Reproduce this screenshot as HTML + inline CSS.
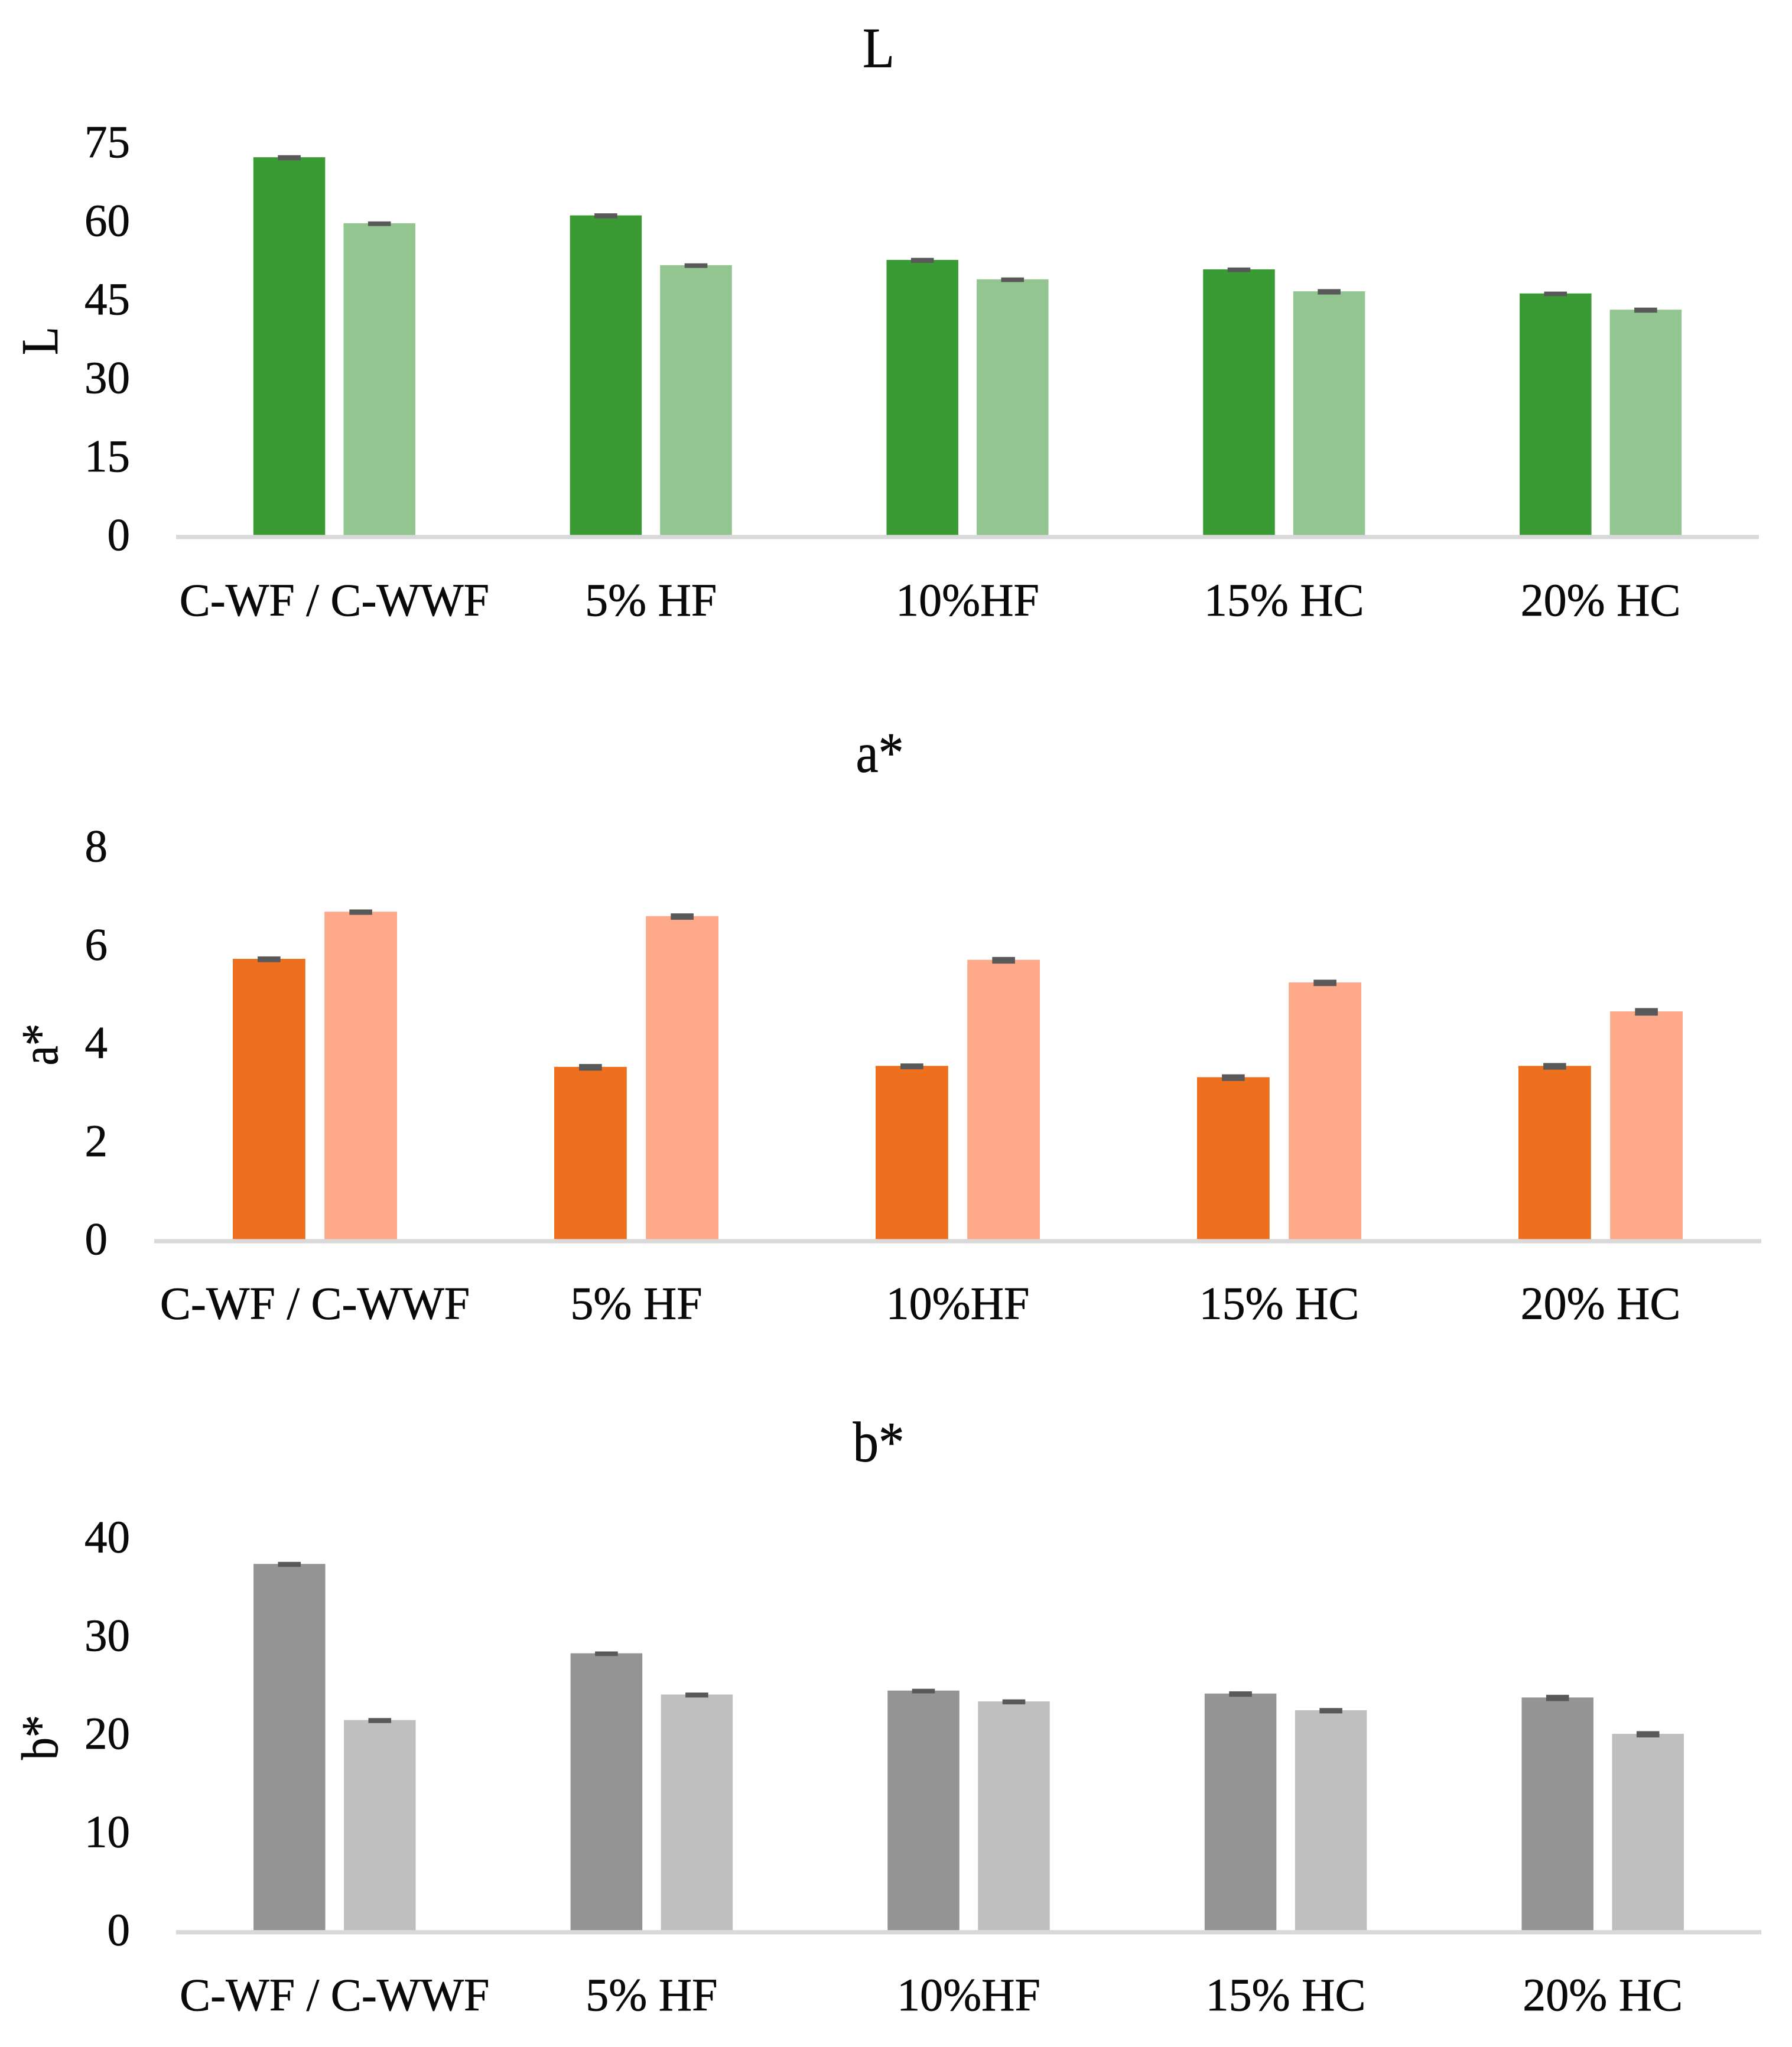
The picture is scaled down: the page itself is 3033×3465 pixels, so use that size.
<!DOCTYPE html>
<html lang="en">
<head>
<meta charset="utf-8">
<title>L, a*, b* colour bar charts</title>
<style>
  html, body { margin: 0; padding: 0; background: #ffffff; }
  body { width: 3033px; height: 3465px; overflow: hidden; }
  svg { display: block; }
  text { font-family: "Liberation Serif", "DejaVu Serif", serif; fill: #0a0a0a; stroke: #0a0a0a; stroke-width: 0.7px; }
</style>
</head>
<body>
<svg id="figure" xmlns="http://www.w3.org/2000/svg" width="3033" height="3465" viewBox="0 0 3033 3465"></svg>
<script>
const categories = ["C-WF / C-WWF", "5% HF", "10%HF", "15% HC", "20% HC"];

const lTicks = [0, 15, 30, 45, 60, 75];
const lDark = [72.5, 61.4, 52.9, 51.1, 46.5];
const lLight = [59.9, 51.9, 49.2, 46.9, 43.4];
const lDarkErr = [0.1, 0.1, 0.1, 0.056, 0.056];
const lLightErr = [0.056, 0.056, 0.056, 0.135, 0.1];

const aTicks = [0, 2, 4, 6, 8];
const aDark = [5.75, 3.55, 3.57, 3.34, 3.57];
const aLight = [6.71, 6.62, 5.73, 5.27, 4.68];
const aDarkErr = [0.018, 0.027, 0.018, 0.027, 0.027];
const aLightErr = [0.014, 0.024, 0.027, 0.024, 0.036];

const bTicks = [0, 10, 20, 30, 40];
const bDark = [37.5, 28.4, 24.6, 24.3, 23.9];
const bLight = [21.6, 24.2, 23.5, 22.6, 20.2];
const bDarkErr = [0.05, 0.03, 0.03, 0.07, 0.115];
const bLightErr = [0.05, 0.05, 0.05, 0.07, 0.115];

const NS = "http://www.w3.org/2000/svg";
const figure = document.getElementById("figure");

function svgEl(parent, tag, attrs, content) {
  const el = document.createElementNS(NS, tag);
  for (const k in attrs) el.setAttribute(k, attrs[k]);
  if (content !== undefined) el.textContent = content;
  parent.appendChild(el);
  return el;
}

function drawChart(cfg) {
  const group = svgEl(figure, "g", {});
  
  

  const maxTick = cfg.ticks[cfg.ticks.length - 1];
  const yScale = v => cfg.y0 - (v / maxTick) * cfg.plotHeight;
  const catWidth = (cfg.right - cfg.left) / categories.length;
  const catCenter = i => cfg.left + (i + 0.5) * catWidth;

  const title = svgEl(group, "text", {
    x: cfg.titleX, y: cfg.titleY, "font-size": 96, "text-anchor": "middle",
    textLength: cfg.titleLen, lengthAdjust: "spacingAndGlyphs"
  }, cfg.title);
  
  

  const yTitle = svgEl(group, "text", {
    transform: "translate(97," + cfg.yTitleY + ") rotate(-90)",
    "font-size": 88, "text-anchor": "middle",
    textLength: cfg.yTitleLen, lengthAdjust: "spacingAndGlyphs"
  }, cfg.title);
  
  

  cfg.ticks.forEach(t => {
    const label = svgEl(group, "text", {
      x: cfg.tickRight, y: yScale(t) + 22, "font-size": 77, "text-anchor": "end"
    }, String(t));
    
    
  });

  const seriesList = [
    { name: "dark", values: cfg.dark, errs: cfg.darkErr, color: cfg.darkColor, side: -1 },
    { name: "light", values: cfg.light, errs: cfg.lightErr, color: cfg.lightColor, side: 1 }
  ];

  seriesList.forEach(s => {
    s.values.forEach((v, i) => {
      const cx = catCenter(i) + s.side * cfg.barOffset;
      const bar = svgEl(group, "rect", {
        x: cx - cfg.barWidth / 2, y: yScale(v), width: cfg.barWidth,
        height: cfg.y0 - yScale(v), fill: s.color
      });
      
      
    });
  });

  const axis = svgEl(group, "rect", {
    x: cfg.left, y: cfg.y0 - 3.6, width: cfg.right - cfg.left, height: 7.2, fill: "#d9d9d9"
  });
  
  

  seriesList.forEach(s => {
    s.values.forEach((v, i) => {
      const cx = catCenter(i) + s.side * cfg.barOffset;
      const pad = (s.errs[i] / maxTick) * cfg.plotHeight;
      const cap = svgEl(group, "rect", {
        x: cx - 19.3, y: yScale(v) + 0.8 - pad - 3.4, width: 38.6,
        height: 2 * pad + 6.8, fill: "#595959"
      });
      
      
    });
  });

  categories.forEach((c, i) => {
    const label = svgEl(group, "text", {
      x: catCenter(i), y: cfg.y0 + cfg.labelDrop, "font-size": 78, "text-anchor": "middle"
    }, c);
    
    
  });
}

drawChart({
  key: "l", title: "L", ticks: lTicks, dark: lDark, light: lLight,
  darkErr: lDarkErr, lightErr: lLightErr,
  darkColor: "#3a9a33", lightColor: "#93c590",
  left: 298, right: 2977, y0: 909, plotHeight: 665, tickRight: 220,
  barWidth: 121.5, barOffset: 76.3, labelDrop: 133,
  titleX: 1487, titleY: 113.5, titleLen: 54, yTitleY: 577, yTitleLen: 48
});

drawChart({
  key: "a", title: "a*", ticks: aTicks, dark: aDark, light: aLight,
  darkErr: aDarkErr, lightErr: aLightErr,
  darkColor: "#ee701f", lightColor: "#ffa98b",
  left: 261, right: 2981, y0: 2101, plotHeight: 665, tickRight: 182,
  barWidth: 122.8, barOffset: 77.6, labelDrop: 131.6,
  titleX: 1489, titleY: 1306.5, titleLen: 81, yTitleY: 1768, yTitleLen: 71
});

drawChart({
  key: "b", title: "b*", ticks: bTicks, dark: bDark, light: bLight,
  darkErr: bDarkErr, lightErr: bLightErr,
  darkColor: "#949494", lightColor: "#bfbfbf",
  left: 298, right: 2981, y0: 3270.7, plotHeight: 665, tickRight: 220,
  barWidth: 121.5, barOffset: 76.5, labelDrop: 132.3,
  titleX: 1487, titleY: 2473.5, titleLen: 87, yTitleY: 2941, yTitleLen: 76
});
</script>
</body>
</html>
